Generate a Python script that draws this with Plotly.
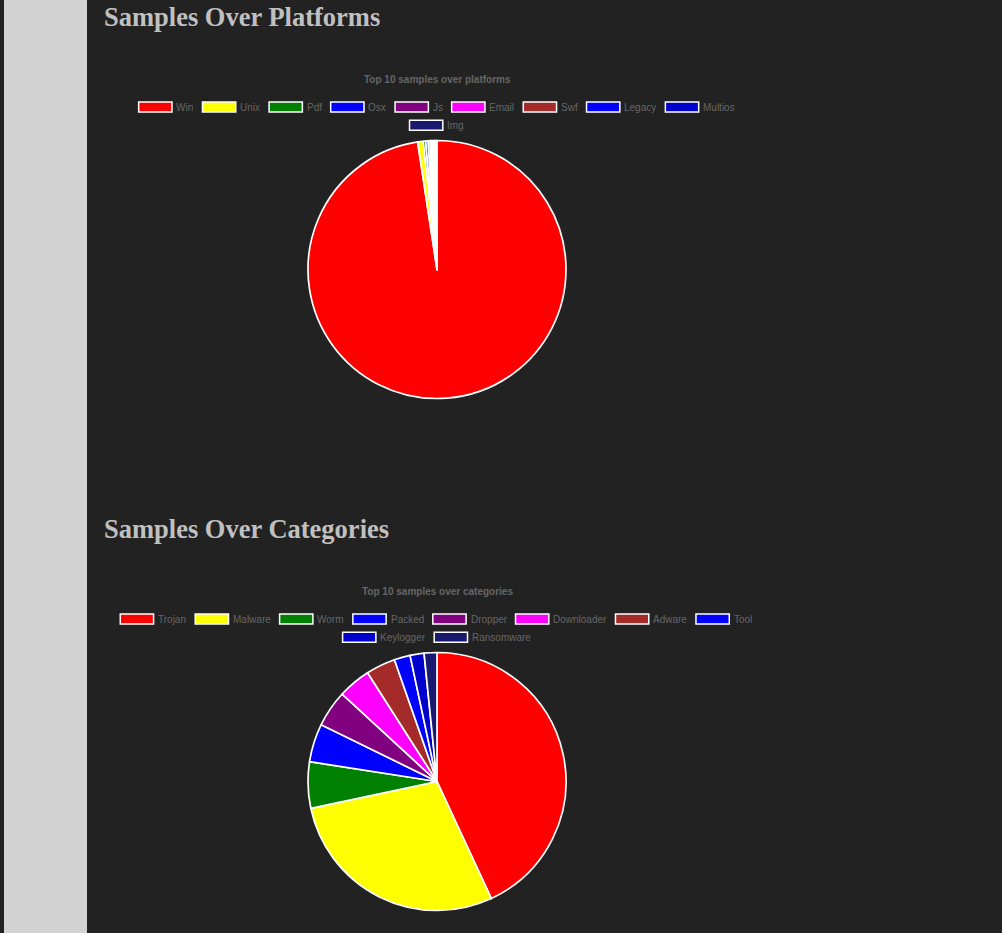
## Samples dashboard - two pie charts on a dark page
import plotly.graph_objects as go

## Data
platform_labels = ["Win", "Unix", "Pdf", "Osx", "Js", "Email", "Swf",
                   "Legacy", "Multios", "Img"]
platform_counts = [195200, 1400, 600, 600, 500, 400, 400, 300, 300, 300]
category_labels = ["Trojan", "Malware", "Worm", "Packed", "Dropper",
                   "Downloader", "Adware", "Tool", "Keylogger", "Ransomware"]
category_counts = [4310, 2860, 580, 480, 460, 410, 370, 200, 175, 160]
slice_colors = ["red", "yellow", "green", "blue", "purple", "magenta",
                "brown", "blue", "mediumblue", "midnightblue"]

#-------------------------------------------------------------------------------
## Page geometry (pixels)
W, H = 1002, 933
BG = "#222222"
TEXT_GREY = "#666666"

# Arial advance widths (1/1000 em), used to lay out the legend rows
ARIAL = {"W": 944, "U": 722, "P": 667, "O": 778, "J": 500, "E": 667,
         "S": 667, "L": 556, "M": 833, "I": 278, "T": 611, "D": 722,
         "A": 667, "K": 667, "R": 722,
         "a": 556, "b": 556, "c": 500, "d": 556, "e": 556, "f": 278,
         "g": 556, "h": 556, "i": 222, "j": 222, "k": 500, "l": 222,
         "m": 833, "n": 556, "o": 556, "p": 556, "q": 556, "r": 333,
         "s": 500, "t": 278, "u": 556, "v": 500, "w": 722, "x": 500,
         "y": 500, "z": 500}


def text_width(s, size):
    return sum(ARIAL.get(c, 556) for c in s) * size / 1000.0


def px(x):
    return x / W


def py(y):
    return 1 - y / H


def pie_domain(cx, cy, r):
    return dict(x=[px(cx - r), px(cx + r)], y=[py(cy + r), py(cy - r)])


def add_legend(fig, labels, colors, y0, cx=437, maxw=645):
    box_w, box_h, gap, pad, line_h, size = 33.3, 10, 5, 8.3, 18.3, 10
    items = [(l, c, box_w + gap + text_width(l, size))
             for l, c in zip(labels, colors)]
    rows, row, w = [], [], 0
    for it in items:
        need = it[2] if not row else w + pad + it[2]
        if row and need > maxw:
            rows.append(row)
            row, w = [it], it[2]
        else:
            row.append(it)
            w = need
    rows.append(row)
    for r, row in enumerate(rows):
        total = sum(i[2] for i in row) + pad * (len(row) - 1)
        x = cx - total / 2
        y = y0 + r * line_h
        for label, color, iw in row:
            fig.add_shape(type="rect", xref="paper", yref="paper",
                          x0=px(x), x1=px(x + box_w),
                          y0=py(y + box_h / 2), y1=py(y - box_h / 2),
                          fillcolor=color, line=dict(color="white", width=1.5))
            fig.add_annotation(x=px(x + box_w + gap - 1.5), y=py(y),
                               xref="paper", yref="paper", text=label,
                               showarrow=False, xanchor="left",
                               yanchor="middle", borderpad=0,
                               font=dict(family="Liberation Sans, Arial",
                                         size=size, color=TEXT_GREY))
            x += iw + pad


def add_heading(fig, text, y):
    fig.add_annotation(x=px(103), y=py(y), xref="paper", yref="paper",
                       text="<b>" + text + "</b>", showarrow=False,
                       xanchor="left", yanchor="middle", borderpad=0,
                       font=dict(family="Liberation Serif, Times New Roman",
                                 size=26.5, color="#c0c0c0"))


def add_title(fig, text, y, cx=437):
    fig.add_annotation(x=px(cx), y=py(y), xref="paper", yref="paper",
                       text="<b>" + text + "</b>", showarrow=False,
                       xanchor="center", yanchor="middle", borderpad=0,
                       font=dict(family="Liberation Sans, Arial",
                                 size=10, color=TEXT_GREY))


#-------------------------------------------------------------------------------
## Figure
fig = go.Figure()
fig.add_trace(go.Pie(labels=platform_labels, values=platform_counts,
    marker=dict(colors=slice_colors, line=dict(color="white", width=1.7)),
    sort=False, direction="clockwise", textinfo="none", hoverinfo="label+value",
    showlegend=False, domain=pie_domain(437, 269.5, 129)))
fig.add_trace(go.Pie(labels=category_labels, values=category_counts,
    marker=dict(colors=slice_colors, line=dict(color="white", width=1.7)),
    sort=False, direction="clockwise", textinfo="none", hoverinfo="label+value",
    showlegend=False, domain=pie_domain(437, 781.5, 129)))

# Left sidebar
fig.add_shape(type="rect", xref="paper", yref="paper", x0=px(4), x1=px(87),
              y0=0, y1=1, fillcolor="#d3d3d3", line=dict(width=0),
              layer="below")

add_heading(fig, "Samples Over Platforms", 17)
add_title(fig, "Top 10 samples over platforms", 79)
add_legend(fig, platform_labels, slice_colors, 107)

add_heading(fig, "Samples Over Categories", 529)
add_title(fig, "Top 10 samples over categories", 591)
add_legend(fig, category_labels, slice_colors, 619)

fig.update_layout(width=W, height=H, margin=dict(l=0, r=0, t=0, b=0),
                  paper_bgcolor=BG, plot_bgcolor=BG)
# drop the default page margin so the figure fills the window
fig.write_html("out.html", config={"displayModeBar": False},
    post_script="document.body.style.margin='0';"
                "document.body.style.overflow='hidden';")
